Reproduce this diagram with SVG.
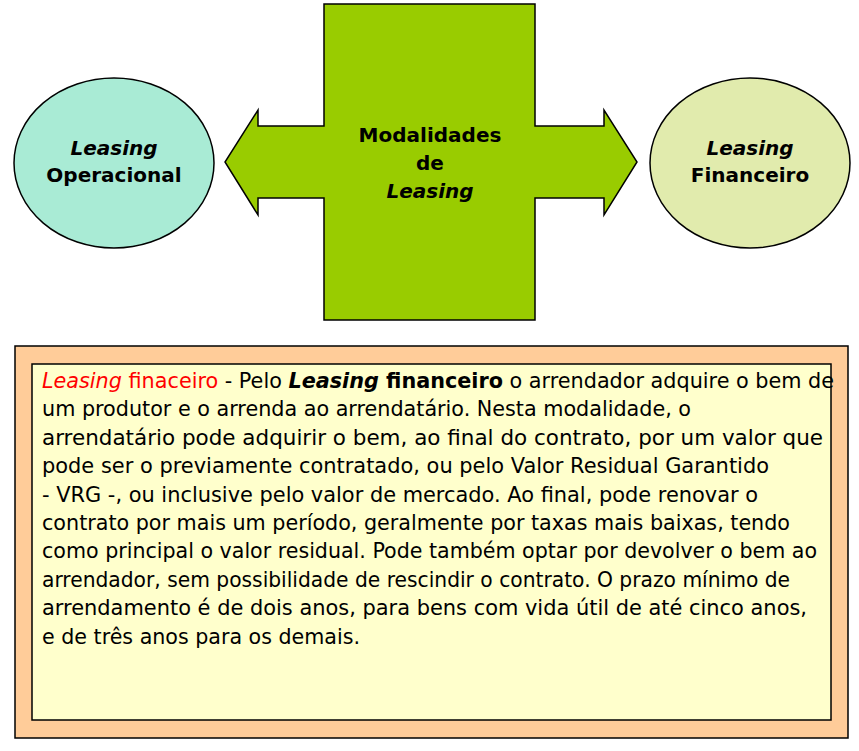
<svg xmlns="http://www.w3.org/2000/svg" width="859" height="751" viewBox="0 0 859 751">
<style>
.st{stroke:#000;stroke-width:1.5}
.lbl{font-family:"DejaVu Sans",Verdana,sans-serif;font-size:20px;font-weight:bold;text-anchor:middle;fill:#000}
.it{font-style:italic}
.body{font-family:"DejaVu Sans",Verdana,sans-serif;font-size:21px;fill:#000}
.red{fill:#FF0000}
</style>
<rect width="859" height="751" fill="#fff"/>
<g id="connectors"></g>
<g id="center">
<polygon class="st" fill="#99CC00" points="324,4 535,4 535,126 604,126 604,110 637,162 604,215 604,198 535,198 535,320 324,320 324,198 258,198 258,215 225,162 258,110 258,126 324,126"/>
<text class="lbl" x="430" y="142">Modalidades</text>
<text class="lbl" x="430" y="170">de</text>
<text class="lbl it" x="430" y="198">Leasing</text>
</g>
<g id="operacional">
<ellipse class="st" cx="114" cy="163" rx="100" ry="85" fill="#A9EBD5"/>
<text class="lbl it" x="114" y="155">Leasing</text>
<text class="lbl" x="114" y="182">Operacional</text>
</g>
<g id="financeiro">
<ellipse class="st" cx="750" cy="163" rx="100" ry="85" fill="#E1EBAD"/>
<text class="lbl it" x="750" y="155">Leasing</text>
<text class="lbl" x="750" y="182">Financeiro</text>
</g>
<g id="textbox">
<rect class="st" x="15" y="346" width="833" height="392" fill="#FFCC99"/>
<rect class="st" x="32" y="364" width="799" height="356" fill="#FFFFCC"/>
<text class="body" x="42" y="388" textLength="792" lengthAdjust="spacingAndGlyphs"><tspan class="red it">Leasing</tspan><tspan class="red"> finaceiro</tspan> - Pelo <tspan font-weight="bold" font-style="italic">Leasing</tspan><tspan font-weight="bold"> financeiro</tspan> o arrendador adquire o bem de</text>
<text class="body" x="42" y="416.4" textLength="649" lengthAdjust="spacingAndGlyphs">um produtor e o arrenda ao arrendatário. Nesta modalidade, o</text>
<text class="body" x="42" y="444.8" textLength="781" lengthAdjust="spacingAndGlyphs">arrendatário pode adquirir o bem, ao final do contrato, por um valor que</text>
<text class="body" x="42" y="473.2" textLength="727" lengthAdjust="spacingAndGlyphs">pode ser o previamente contratado, ou pelo Valor Residual Garantido</text>
<text class="body" x="42" y="501.6" textLength="716" lengthAdjust="spacingAndGlyphs">- VRG -, ou inclusive pelo valor de mercado. Ao final, pode renovar o</text>
<text class="body" x="42" y="530" textLength="748" lengthAdjust="spacingAndGlyphs">contrato por mais um período, geralmente por taxas mais baixas, tendo</text>
<text class="body" x="42" y="558.4" textLength="775" lengthAdjust="spacingAndGlyphs">como principal o valor residual. Pode também optar por devolver o bem ao</text>
<text class="body" x="42" y="586.8" textLength="748" lengthAdjust="spacingAndGlyphs">arrendador, sem possibilidade de rescindir o contrato. O prazo mínimo de</text>
<text class="body" x="42" y="615.2" textLength="765" lengthAdjust="spacingAndGlyphs">arrendamento é de dois anos, para bens com vida útil de até cinco anos,</text>
<text class="body" x="42" y="643.6" textLength="318" lengthAdjust="spacingAndGlyphs">e de três anos para os demais.</text>
</g>
</svg>
